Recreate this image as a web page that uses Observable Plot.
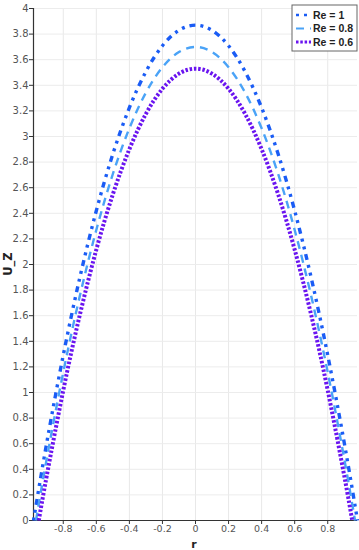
<!DOCTYPE html>
<html><head><meta charset="utf-8">
<script src="https://cdn.jsdelivr.net/npm/d3@7"></script>
<script src="https://cdn.jsdelivr.net/npm/@observablehq/plot@0.6"></script>
<style>body{margin:0;background:#fff;font-family:"DejaVu Sans",sans-serif;}</style>
</head><body><div id="chart"></div>
<script>
const seriesNames = ["Re = 1", "Re = 0.8", "Re = 0.6"];
const rRe1  = [-0.98,-0.9,-0.8,-0.7,-0.6,-0.5,-0.4,-0.3,-0.2,-0.1,0,0.1,0.2,0.3,0.4,0.5,0.6,0.7,0.8,0.9,0.98];
const uRe1  = [0,0.606,1.291,1.896,2.420,2.863,3.225,3.507,3.709,3.830,3.87,3.830,3.709,3.507,3.225,2.863,2.420,1.896,1.291,0.606,0];
const rRe08 = [-0.965,-0.9,-0.8,-0.7,-0.6,-0.5,-0.4,-0.3,-0.2,-0.1,0,0.1,0.2,0.3,0.4,0.5,0.6,0.7,0.8,0.9,0.965];
const uRe08 = [0,0.482,1.157,1.753,2.270,2.707,3.064,3.343,3.541,3.660,3.70,3.660,3.541,3.343,3.064,2.707,2.270,1.753,1.157,0.482,0];
const rRe06 = [-0.948,-0.9,-0.8,-0.7,-0.6,-0.5,-0.4,-0.3,-0.2,-0.1,0,0.1,0.2,0.3,0.4,0.5,0.6,0.7,0.8,0.9,0.948];
const uRe06 = [0,0.348,1.016,1.605,2.116,2.548,2.901,3.177,3.373,3.491,3.53,3.491,3.373,3.177,2.901,2.548,2.116,1.605,1.016,0.348,0];
const xTicks = [-0.8,-0.6,-0.4,-0.2,0,0.2,0.4,0.6,0.8];
const yTicks = d3.range(0, 21).map(i => +(i * 0.2).toFixed(1));

const colors = ["#1a5cf5", "#4aa3f7", "#6a14f0"];
const dashes = ["3,5,3,5,6,5", "8,6", "2.5,1.8"];
const widths = [3.4, 2.4, 4];

const toRows = (rs, us) => rs.map((r, i) => ({r, u: us[i]}));
const data = [toRows(rRe1, uRe1), toRows(rRe08, uRe08), toRows(rRe06, uRe06)];

const fmt = d => d === 0 ? "0" : String(d);

const chart = Plot.plot({
  width: 359, height: 550,
  marginLeft: 33, marginRight: 2, marginTop: 8, marginBottom: 30,
  style: {fontFamily: "DejaVu Sans, sans-serif", fontSize: "10px", color: "#444", background: "#fff"},
  x: {domain: [-0.98, 0.98], ticks: xTicks, tickFormat: fmt, label: null},
  y: {domain: [0, 4], ticks: yTicks, tickFormat: fmt, label: null},
  marks: [
    Plot.gridX(xTicks, {stroke: "#e8e8e8", strokeOpacity: 1}),
    Plot.gridY(yTicks, {stroke: "#ececec", strokeOpacity: 1}),
    Plot.axisX({ticks: xTicks, tickFormat: fmt, tickSize: 4, tickPadding: 1, fontSize: 9.5, fill: "#555", stroke: "#333", label: null}),
    Plot.axisY({ticks: yTicks, tickFormat: fmt, tickSize: 4, tickPadding: 1, fill: "#555", stroke: "#333", label: null}),
    Plot.ruleX([-0.98], {stroke: "#333", strokeWidth: 1.2}),
    Plot.ruleY([0], {stroke: "#333", strokeWidth: 1.2}),
    ...data.map((d, i) => Plot.line(d, {x: "r", y: "u", stroke: colors[i], strokeWidth: widths[i], strokeDasharray: dashes[i], strokeLinecap: "butt", curve: "natural"}))
  ]
});
document.getElementById("chart").appendChild(chart);

const svg = d3.select(chart);
// axis titles
svg.append("text").attr("x", 194).attr("y", 548).attr("text-anchor", "middle")
  .attr("font-family", "DejaVu Sans, sans-serif").attr("font-size", 11).attr("font-weight", "bold").attr("fill", "#222").text("r");
svg.append("text").attr("transform", "translate(12,264) rotate(-90)").attr("text-anchor", "middle")
  .attr("font-family", "DejaVu Sans, sans-serif").attr("font-size", 11.5).attr("font-weight", "bold").attr("fill", "#222").text("U_Z");
// legend
const lg = svg.append("g").attr("transform", "translate(292,5)");
lg.append("rect").attr("width", 65).attr("height", 46).attr("fill", "#fff").attr("stroke", "#666").attr("stroke-width", 1);
seriesNames.forEach((name, i) => {
  const y = 10 + i * 13.5;
  lg.append("line").attr("x1", 4).attr("x2", 19).attr("y1", y).attr("y2", y)
    .attr("stroke", colors[i]).attr("stroke-width", widths[i] * 0.8).attr("stroke-dasharray", dashes[i]);
  lg.append("text").attr("x", 21).attr("y", y + 3.5).attr("text-anchor", "start")
    .attr("font-family", "Liberation Sans, Arial, sans-serif")
    .attr("font-size", 10.5).attr("font-weight", "bold").attr("fill", "#222").text(name);
});
</script></body></html>
